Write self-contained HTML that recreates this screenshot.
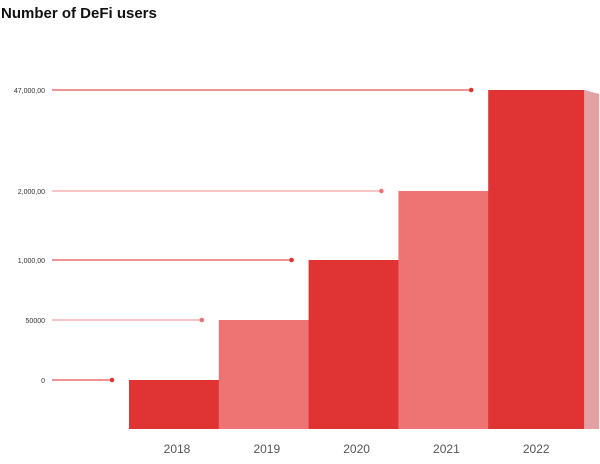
<!DOCTYPE html>
<html><head><meta charset="utf-8"><style>
body{margin:0;background:#fff;width:600px;height:459px;overflow:hidden;font-family:"Liberation Sans",sans-serif}
</style></head><body>
<svg width="600" height="459">
<text x="1" y="18" font-size="15" font-weight="bold" fill="#111">Number of DeFi users</text>
<g id="ticks"></g><g id="bars"></g><g id="xlab"></g>
</svg>
<script>
const years=["2018","2019","2020","2021","2022"];
const users=[0,50000,1000000,2000000,47000000];
const tickValues=[0,50000,1000000,2000000,47000000];
const tickLabels=["0","50000","1,000,00","2,000,00","47,000,00"];
// piecewise y scale (non-linear axis)
const yRange=[380,320,260,191,90];
function y(v){
  for(let i=0;i<tickValues.length-1;i++){
    if(v<=tickValues[i+1]){const t=(v-tickValues[i])/(tickValues[i+1]-tickValues[i]);return yRange[i]+t*(yRange[i+1]-yRange[i]);}
  }
  return yRange[yRange.length-1];
}
function x(i){return 129+i*89.8;}
const NS="http://www.w3.org/2000/svg";
function mk(tag,attrs,parent){const e=document.createElementNS(NS,tag);for(const k in attrs)e.setAttribute(k,attrs[k]);parent.appendChild(e);return e;}
const dark="#e03333",light="#ee7474",side="#e2a2a4",bottom=429,bw=96,sw=15;
const tg=document.getElementById('ticks'),bg=document.getElementById('bars'),xg=document.getElementById('xlab');
tickValues.forEach((v,i)=>{
  const yy=y(v);
  const t=mk('text',{x:45,y:yy+3,'font-size':7,fill:'#333','text-anchor':'end'},tg);
  t.textContent=tickLabels[i];
  
  
});
users.forEach((v,i)=>{
  const c=i%2?light:dark, yy=y(v), x0=x(i);
  const ln=mk('line',{x1:52,x2:x0-17,y1:yy,y2:yy,stroke:i%2?'#f4a0a0':'#e85555','stroke-width':1.2},tg);
  
  
  const d=mk('circle',{cx:x0-17,cy:yy,r:2.3,fill:c},tg);
  
  
  const s=mk('polygon',{points:`${x0+bw},${yy} ${x0+bw+sw},${yy+4} ${x0+bw+sw},${bottom} ${x0+bw},${bottom}`,fill:side},bg);
  
  
  const r=mk('rect',{x:x0,y:yy,width:bw,height:bottom-yy,fill:c},bg);
  
  
  const t=mk('text',{x:x0+bw/2,y:453,'font-size':12,fill:'#555','text-anchor':'middle'},xg);
  t.textContent=years[i];
  
  
});
</script>
</body></html>
